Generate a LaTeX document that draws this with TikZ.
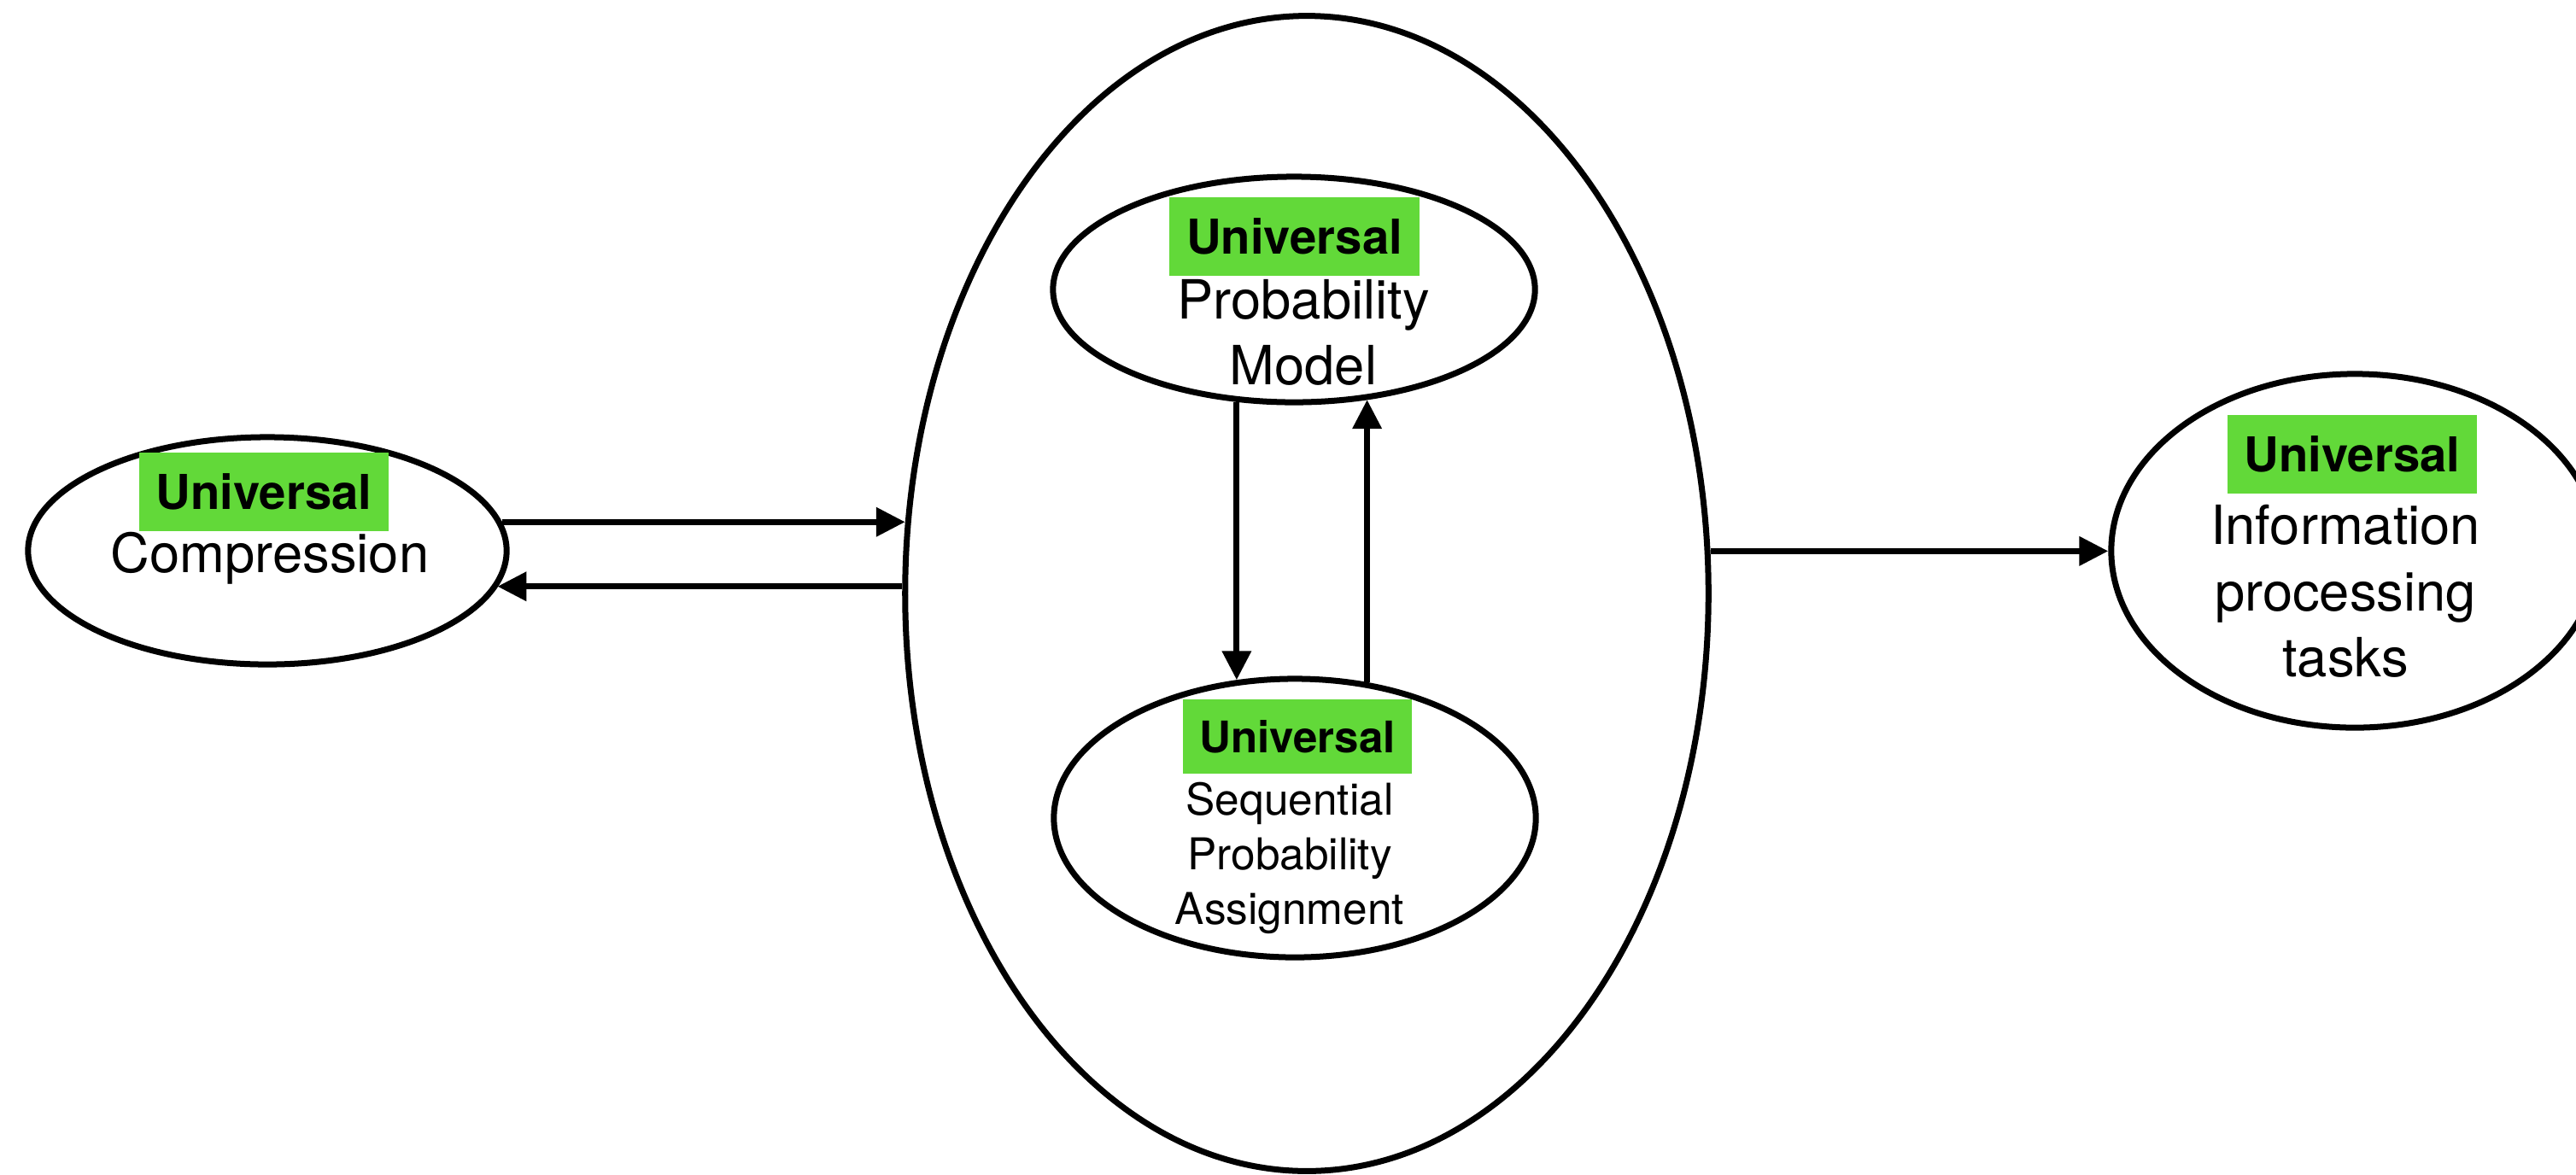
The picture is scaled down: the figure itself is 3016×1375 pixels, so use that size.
\documentclass[tikz,border=0pt]{standalone}
\usepackage{fontspec}
\setmainfont{TeX Gyre Heros}
\usetikzlibrary{shapes.geometric,arrows.meta}
\definecolor{ugreen}{RGB}{98,217,57}
\begin{document}
\begin{tikzpicture}[x=0.01cm,y=-0.01cm,
  ell/.style={ellipse,draw,line width=0.07cm,inner sep=0pt},
  tag/.style={fill=ugreen,inner sep=0pt,minimum width=2.92cm,minimum height=0.92cm,
    font=\fontsize{16pt}{19pt}\selectfont\bfseries},
  smalltag/.style={tag,minimum width=2.68cm,minimum height=0.87cm,
    font=\fontsize{14.5pt}{17pt}\selectfont\bfseries},
  txt/.style={anchor=base,align=center,inner sep=0pt,
    font=\fontsize{18pt}{21.9pt}\selectfont},
  smalltxt/.style={txt,font=\fontsize{14.6pt}{18.2pt}\selectfont},
  arr/.style={line width=0.07cm,-{Triangle[length=0.34cm,width=0.33cm]}}]
\useasboundingbox (0,0) rectangle (3016,1375);

% outer ellipse holding the model and the assignment
\node[ell,minimum width=9.40cm,minimum height=13.52cm] (big) at (1530,695) {};

% left: compression
\node[ell,minimum width=5.60cm,minimum height=2.66cm] (comp) at (313,645) {};
\node[tag] (comptag) at (309,576) {Universal};
\node[txt] (comptxt) at (316,670) {Compression};

% inner top: probability model (text placed by the baseline of its last line)
\node[ell,minimum width=5.64cm,minimum height=2.64cm] (pm) at (1515,339) {};
\node[tag] (pmtag) at (1515.5,277) {Universal};
\node[txt] (pmtxt) at (1526,450) {Probability\\Model};

% inner bottom: sequential probability assignment
\node[ell,minimum width=5.64cm,minimum height=3.26cm] (spa) at (1516,958) {};
\node[smalltag] (spatag) at (1519,862.5) {Universal};
\node[smalltxt] (spatxt) at (1510,1082) {Sequential\\Probability\\Assignment};

% right: information processing tasks
\node[ell,minimum width=5.70cm,minimum height=4.14cm] (info) at (2757,645) {};
\node[tag] (infotag) at (2754,532) {Universal};
\node[txt] (infotxt) at (2746,792) {Information\\processing\\tasks};

% connectors
\draw[arr] (comp.7) -- (comp.7 -| big.170);
\draw[arr] (big.179) -- (big.179 -| comp.-9);
\draw[arr] (pm.243) -- (pm.243 |- spa.113);
\draw[arr] (spa.62) -- (spa.62 |- pm.-56);
\draw[arr] (big.6) -- (big.6 -| info.west);
\end{tikzpicture}
\end{document}
